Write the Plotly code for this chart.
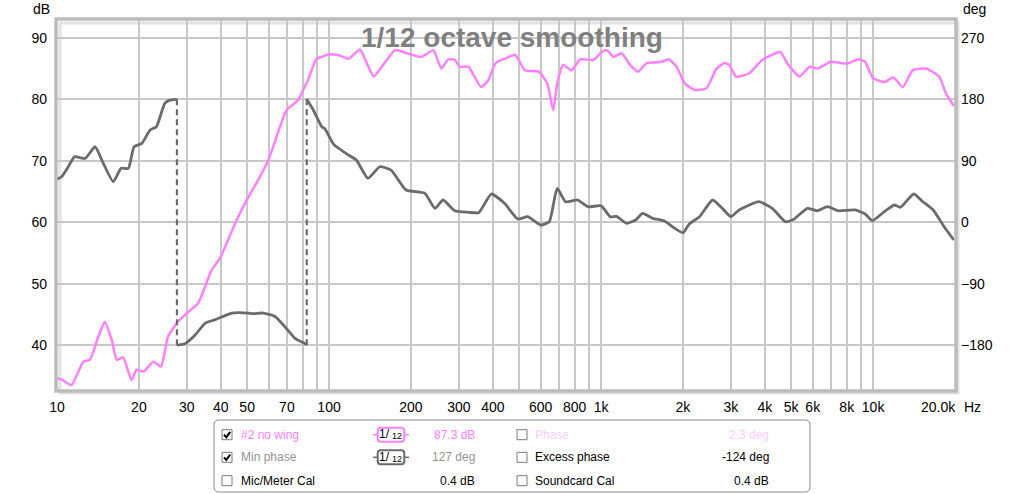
import plotly.graph_objects as go

# ---------------- data ----------------
spl_freq = [10, 10.5, 11.3, 12.5, 13.2, 14.2, 15.0, 15.9, 16.6, 17.5, 18.8, 19.6, 20.8, 22.6, 24.1,
            25.6, 27.6, 30, 33, 37, 39.7, 45.8, 49.8, 54.9, 59.8, 68.8, 70.7, 77, 80.3, 83.6, 90,
            93.9, 99.5, 108, 118, 130, 137.8, 146, 158, 175, 193, 219, 242, 258.5, 274, 290, 302,
            325, 362, 385, 408, 442, 484, 525, 590, 634, 667, 690, 725, 778, 838, 937, 1005, 1050,
            1110, 1190, 1278, 1370, 1470, 1670, 1770, 1895, 2030, 2210, 2440, 2650, 2840, 2960,
            3130, 3500, 3910, 4550, 4880, 5370, 5840, 6250, 6990, 8020, 8840, 9340, 10010, 11030,
            11840, 12870, 13970, 15650, 17500, 18500, 19800]
spl_db = [34.6, 34.3, 33.5, 37.3, 37.6, 41.4, 43.8, 40.8, 37.6, 38.0, 34.3, 36.0, 35.7, 37.3, 36.5,
          41.4, 43.6, 45.2, 46.8, 52.2, 54.1, 60.4, 63.6, 66.9, 70.1, 77.7, 78.5, 79.9, 81.5, 83.1, 86.6,
          86.9, 87.3, 87.2, 86.6, 88.1, 85.8, 83.7, 85.6, 88.0, 87.5, 86.9, 88.0, 85.0, 86.5, 86.4, 85.3,
          85.3, 82.0, 83.1, 85.8, 86.6, 87.2, 84.7, 84.5, 82.6, 78.2, 82.6, 85.6, 84.7, 86.5, 86.4, 87.7, 88.0,
          86.9, 87.5, 85.6, 84.5, 85.9, 86.1, 86.5, 85.3, 82.6, 81.5, 81.8, 84.9, 85.9, 85.6,
          83.7, 84.2, 86.4, 87.7, 85.6, 83.7, 85.3, 85.0, 86.1, 85.8, 86.5, 86.1, 83.4, 82.8,
          83.6, 82.0, 84.7, 85.0, 83.7, 81.0, 78.9]

# minimum phase, split into wrapped segments
phase_freq_1 = [10, 10.4, 11.0, 11.6, 12.7, 13.8, 14.8, 16.1, 17.2, 18.3, 19.2, 20.5, 22.0, 23.2, 24.9, 26.0, 27.6]
phase_deg_1 = [62.8, 66.6, 81.2, 95.9, 93.5, 110.5, 86.2, 59.3, 78.9, 78.9, 110.5, 115.5, 135, 139.8, 174, 178.8, 180]

phase_freq_2 = [27.6, 29.5, 32.2, 35.0, 38.0, 43.9, 50.5, 52.4, 57.3, 63.3, 68.8, 75.0, 82.8]
phase_deg_2 = [-180, -178, -165, -148, -143, -133, -133, -134, -133, -138, -153, -170, -179]

phase_freq_3 = [82.8, 87.6, 93.9, 96.5, 104, 118, 126, 139, 153.6, 169, 192, 225, 245, 262.5, 290, 325.6,
                355, 395, 441.5, 494, 537, 601, 645, 690, 740, 820, 895, 1000, 1080, 1140, 1240, 1340,
                1420, 1550, 1710, 1830, 2000, 2110, 2300, 2570, 2790, 3000, 3220, 3800, 4260, 4760, 5110,
                5730, 6240, 6800, 7420, 8560, 9350, 9940, 10990, 11980, 12600, 14100, 15240, 16630, 18250, 19800]
phase_deg_3 = [180, 164, 140, 137, 114, 98.3, 91, 64.2, 81.2, 76.4, 47.1, 42.3, 20.3, 32.5, 16.8, 14.5,
               14, 41.3, 27.7, 4.7, 8.1, -4.1, 0.7, 49.6, 30, 32.5, 22.7, 24, 8.1, 8.6, -1.6, 3.2,
               13, 5.7, 1.8, -6.6, -15.4, -2.6, 8.1, 32.5, 20.3, 8.1, 17.9, 30, 20.3, 0.7, 4.2,
               20.3, 16.8, 22.7, 16.8, 17.9, 12, 2.2, 15.4, 25.2, 21.8, 41.3, 30, 17.9, -6.6, -26]

wrap_freqs = [27.6, 82.8]
wrap_from = [180, -180]
wrap_to = [-180, 180]

x_tick_vals = [10, 20, 30, 40, 50, 60, 70, 80, 90, 100, 200, 300, 400, 500, 600, 700, 800, 900,
               1000, 2000, 3000, 4000, 5000, 6000, 7000, 8000, 9000, 10000]
x_tick_text = ["10", "20", "30", "40", "50", "", "70", "", "", "100", "200", "300", "400", "", "600", "",
               "800", "", "1k", "2k", "3k", "4k", "5k", "6k", "", "8k", "", "10k"]
db_ticks = [40, 50, 60, 70, 80, 90]
deg_ticks = [-180, -90, 0, 90, 180, 270]

# ---------------- layout geometry (page pixels) ----------------
W, H = 1024, 494
L, R, T, B = 57, 955, 20, 390   # plot area in page pixels


def px(x):
    return (x - L) / (R - L)


def py(y):
    return (B - y) / (B - T)


MAG = "#ff80ff"
GRY = "#6b6b6b"
FONT = "Liberation Sans, Arial, sans-serif"

fig = go.Figure()

fig.add_trace(go.Scatter(x=spl_freq, y=spl_db, mode="lines", line=dict(color=MAG, width=2.5, shape="spline", smoothing=0.5),
                         hoverinfo="skip", showlegend=False))
for fx, fy in [(phase_freq_1, phase_deg_1), (phase_freq_2, phase_deg_2), (phase_freq_3, phase_deg_3)]:
    fig.add_trace(go.Scatter(x=fx, y=fy, yaxis="y2", mode="lines",
                             line=dict(color=GRY, width=2.8, shape="spline", smoothing=0.5),
                             hoverinfo="skip", showlegend=False))
wx, wy = [], []
for f, a, b in zip(wrap_freqs, wrap_from, wrap_to):
    wx += [f, f, None]
    wy += [a, b, None]
fig.add_trace(go.Scatter(x=wx, y=wy, yaxis="y2", mode="lines",
                         line=dict(color=GRY, width=2.2, dash="6px,4px"), hoverinfo="skip", showlegend=False))

db_lo, db_hi = 32.7, 92.9
fig.update_layout(
    width=W, height=H,
    margin=dict(l=L, r=W - R, t=T, b=H - B),
    paper_bgcolor="white", plot_bgcolor="white",
    font=dict(family=FONT, size=14, color="black"),
    xaxis=dict(type="log", range=[1, 4.30103], tickvals=x_tick_vals, ticktext=x_tick_text,
               showgrid=True, gridcolor="#c8c8c8", gridwidth=1.5, zeroline=False, showline=False,
               ticks="", ticklabelstandoff=7, tickfont=dict(size=14)),
    yaxis=dict(range=[db_lo, db_hi], tickvals=db_ticks, showgrid=True, gridcolor="#c8c8c8", gridwidth=1.5,
               zeroline=False, showline=False, ticks="", ticklabelstandoff=9, tickfont=dict(size=14)),
    yaxis2=dict(range=[(db_lo - 60) * 9, (db_hi - 60) * 9], tickvals=deg_ticks, overlaying="y", side="right",
                showgrid=False, zeroline=False, showline=False, ticks="", ticklabelstandoff=5,
                tickfont=dict(size=14)),
)

shapes = []
anns = []


def text(t, x, y, anchor="center", size=14, color="black"):
    anns.append(dict(text=t, x=px(x), y=py(y), xref="paper", yref="paper", xanchor=anchor, yanchor="middle",
                     showarrow=False, font=dict(size=size, color=color)))


# plot frame with shadow
shapes.append(dict(type="rect", xref="paper", yref="paper", x0=px(L + 3), y0=py(B + 3), x1=px(R + 3), y1=py(T + 3),
                   line=dict(color="#e2e2e2", width=3), layer="below"))
shapes.append(dict(type="rect", xref="paper", yref="paper", x0=px(L - 1), y0=py(B + 1), x1=px(R + 1), y1=py(T - 1),
                   line=dict(color="#bcbcbc", width=3.5)))

# axis unit labels
text("dB", 41, 9)
text("deg", 974, 9)
text("20.0k", 958, 407, anchor="right")
text("Hz", 962, 407, anchor="left")
# title
text("<b>1/12 octave smoothing</b>", 512, 38, size=28, color="#808080")


def rounded_rect(x0, y0, x1, y1, r):
    return (f"M {px(x0 + r)} {py(y0)} L {px(x1 - r)} {py(y0)} Q {px(x1)} {py(y0)} {px(x1)} {py(y0 + r)} "
            f"L {px(x1)} {py(y1 - r)} Q {px(x1)} {py(y1)} {px(x1 - r)} {py(y1)} "
            f"L {px(x0 + r)} {py(y1)} Q {px(x0)} {py(y1)} {px(x0)} {py(y1 - r)} "
            f"L {px(x0)} {py(y0 + r)} Q {px(x0)} {py(y0)} {px(x0 + r)} {py(y0)} Z")


# legend box
shapes.append(dict(type="path", xref="paper", yref="paper", path=rounded_rect(214, 420, 810, 492, 5),
                   line=dict(color="#8a8a8a", width=1), fillcolor="white"))

rows = [434.7, 457.3, 480.7]
left_items = [("#2 no wing", MAG, True, "87.3 dB", MAG, MAG),
              ("Min phase", "#949494", True, "127 deg", "#949494", "#6b6b6b"),
              ("Mic/Meter Cal", "black", False, "0.4 dB", "black", None)]
right_items = [("Phase", "#ffccff", "2.3 deg", "#ffccff"),
               ("Excess phase", "black", "-124 deg", "black"),
               ("Soundcard Cal", "black", "0.4 dB", "black")]


def checkbox(x0, yc, checked):
    shapes.append(dict(type="rect", xref="paper", yref="paper", x0=px(x0), x1=px(x0 + 10), y0=py(yc + 5), y1=py(yc - 5),
                       line=dict(color="#7a7a7a", width=1), fillcolor="white"))
    if checked:
        shapes.append(dict(type="path", xref="paper", yref="paper",
                           path=f"M {px(x0 + 2)} {py(yc)} L {px(x0 + 4.3)} {py(yc + 2.6)} L {px(x0 + 8.2)} {py(yc - 2.8)}",
                           line=dict(color="black", width=2)))


for yc, (lab, lc, chk, val, vc, badge) in zip(rows, left_items):
    checkbox(222, yc, chk)
    text(lab, 239, yc, anchor="left", size=12, color=lc)
    text(val, 477, yc, anchor="right", size=12, color=vc)
    if badge:
        shapes.append(dict(type="path", xref="paper", yref="paper", path=rounded_rect(377.7, yc - 7, 404.3, yc + 7, 3),
                           line=dict(color=badge, width=2), fillcolor="white"))
        for a, b in [(373, 377.7), (404.3, 409)]:
            shapes.append(dict(type="line", xref="paper", yref="paper", x0=px(a), x1=px(b), y0=py(yc), y1=py(yc),
                               line=dict(color=badge, width=1.5)))
        text("1/", 391.5, yc - 0.5, anchor="right", size=12)
        text("12", 389.5, yc + 1.5, anchor="left", size=9)

for yc, (lab, lc, val, vc) in zip(rows, right_items):
    checkbox(517, yc, False)
    text(lab, 533, yc, anchor="left", size=12, color=lc)
    text(val, 771, yc, anchor="right", size=12, color=vc)

fig.update_layout(shapes=shapes, annotations=anns)
fig.write_html("out.html", config={"displayModeBar": False},
               post_script="document.body.style.margin='0px';document.body.style.overflow='hidden';")
